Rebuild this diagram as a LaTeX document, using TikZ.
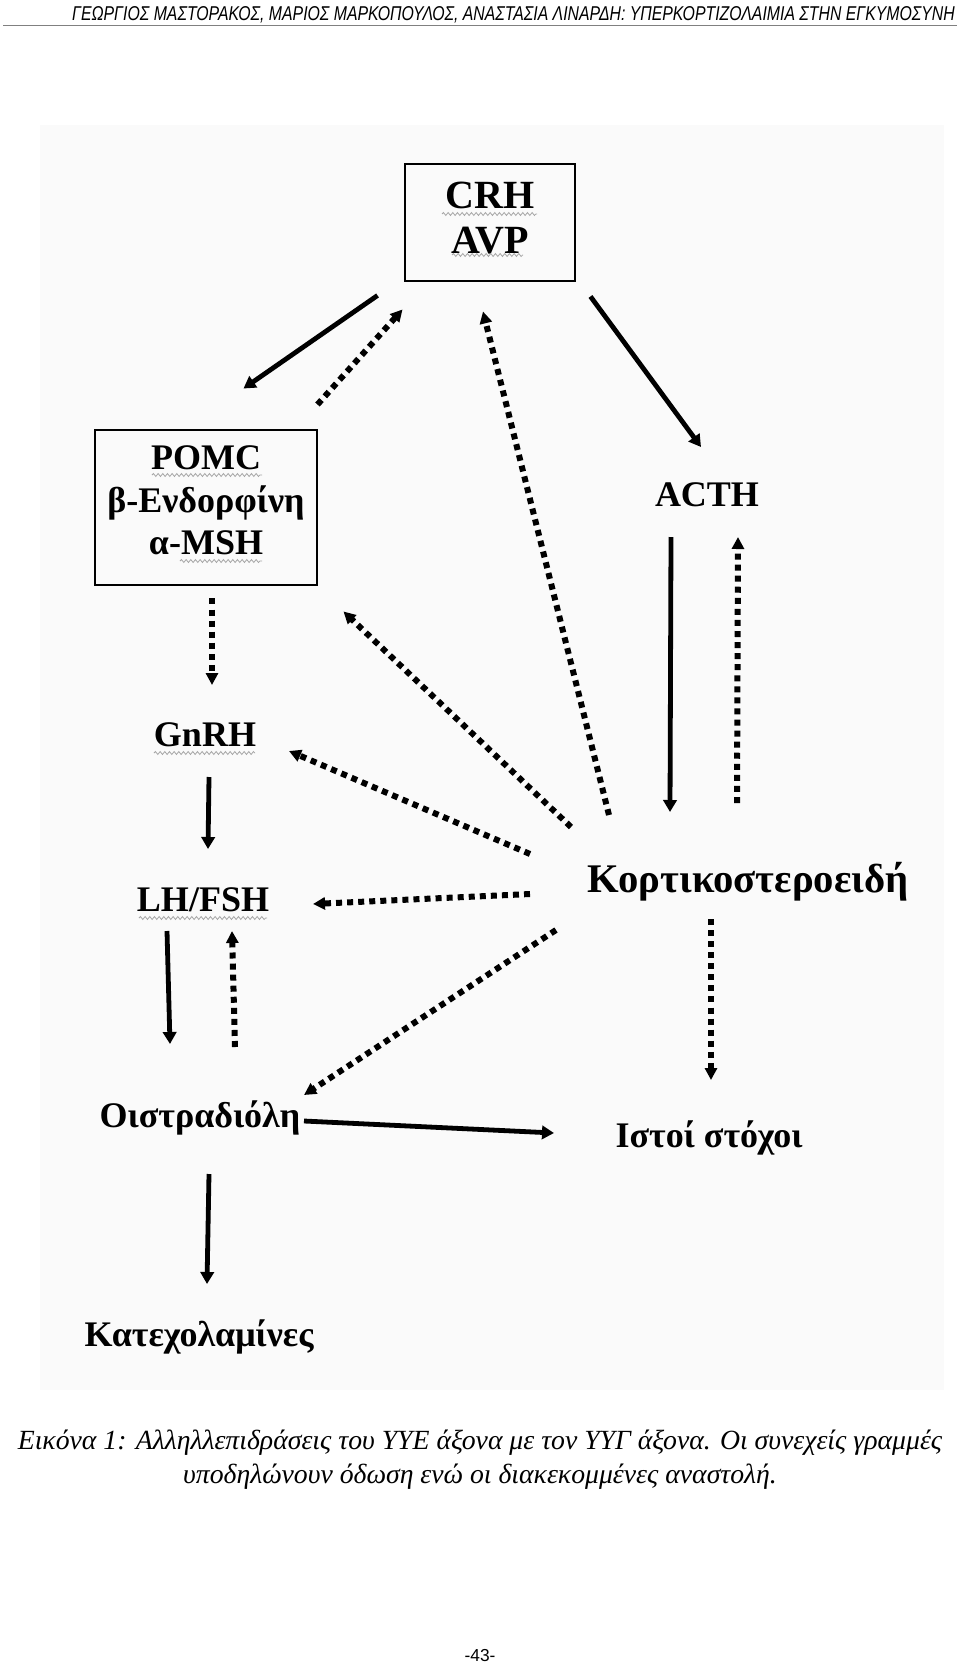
\documentclass[tikz,border=0pt]{standalone}
\usepackage{fontspec}
\setmainfont{Liberation Serif}
\newfontfamily\hdrfont{Liberation Sans}
\usetikzlibrary{arrows.meta,calc,decorations.pathmorphing}

\begin{document}
\begin{tikzpicture}[x=0.75pt,y=-0.75pt,
box/.style={draw,line width=2.2pt,align=center,font=\bfseries\fontsize{27}{32}\selectfont},
lbl/.style={inner sep=0pt,font=\bfseries\fontsize{27}{32}\selectfont},
stim/.style={-{Triangle[length=9pt,width=10pt]},line width=3.6pt},
inhib/.style={-{Triangle[length=9pt,width=9pt]},line width=4.5pt,dash pattern=on 4.5pt off 3.8pt},
spell/.style={draw=gray!70,line width=0.6pt,decorate,decoration={snake,amplitude=1.1pt,segment length=3.5pt}}]
\useasboundingbox (0,0) rectangle (960,1663);
\fill[black!2] (40,125) rectangle (944,1390);
% page header
\node[anchor=base east,inner sep=0pt] (hdr) at (955,20) {\resizebox{662pt}{\height}{\hdrfont\itshape\fontsize{15}{18}\selectfont ΓΕΩΡΓΙΟΣ ΜΑΣΤΟΡΑΚΟΣ, ΜΑΡΙΟΣ ΜΑΡΚΟΠΟΥΛΟΣ, ΑΝΑΣΤΑΣΙΑ ΛΙΝΑΡΔΗ: ΥΠΕΡΚΟΡΤΙΖΟΛΑΙΜΙΑ ΣΤΗΝ ΕΓΚΥΜΟΣΥΝΗ}};
\draw[gray,line width=1.1pt] (3,25.5) -- (957,25.5);
% boxes and labels
\node[box,minimum width=127.5pt,minimum height=87.75pt,text depth=7.5pt,font=\bfseries\fontsize{30}{33.5}\selectfont] (crh) at (490,222.5) {CRH\\AVP};
\node[box,minimum width=166.5pt,minimum height=116.25pt,text depth=11pt] (pomc) at (206,507.5) {POMC\\β-Ενδορφίνη\\α-MSH};
\node[lbl] (acth) at (707,495) {ACTH};
\node[lbl] (gnrh) at (205,735) {GnRH};
\node[lbl] (lhfsh) at (203,900) {LH/FSH};
\node[lbl,font=\bfseries\fontsize{30.5}{34}\selectfont] (kort) at (748,882) {Κορτικοστεροειδή};
\node[lbl] (oistr) at (200,1118) {Οιστραδιόλη};
\node[lbl] (istoi) at (709,1138) {Ιστοί στόχοι};
\node[lbl] (katex) at (199,1337) {Κατεχολαμίνες};
% spell-check marks of the scan
\draw[spell] (442,214) -- (537,214);
\draw[spell] (452,255) -- (523,255);
\draw[spell] (152,475) -- (262,475);
\draw[spell] (180,561) -- (262,561);
\draw[spell] (154,753) -- (255,753);
\draw[spell] (139,918) -- (267,918);
% solid = stimulation
\draw[stim] ($(crh.south west)+(-26,13)$) -- ($(pomc.north east)+(-75,-40)$);
\draw[stim] ($(crh.south east)+(14,14)$) -- ($(acth)+(-6,-48)$);
\draw[stim] ($(acth)+(-36,42)$) -- ($(kort)+(-78,-70)$);
\draw[stim] ($(gnrh)+(4,42)$) -- ($(lhfsh)+(5,-51)$);
\draw[stim] ($(lhfsh)+(-36,31)$) -- ($(oistr)+(-30,-74)$);
\draw[stim] ($(oistr)+(104,3)$) -- ($(istoi)+(-155,-5)$);
\draw[stim] ($(oistr)+(9,56)$) -- ($(katex)+(8,-53)$);
% dotted = inhibition
\draw[inhib] ($(pomc.north east)+(-1,-24)$) -- ($(crh.south west)+(-1,27)$);
\draw[inhib] ($(kort)+(-139,-67)$) -- ($(crh.south)+(-7,29)$);
\draw[inhib] ($(kort)+(-11,-79)$) -- ($(acth)+(31,42)$);
\draw[inhib] ($(pomc.south)+(6,12)$) -- ($(gnrh)+(7,-50)$);
\draw[inhib] ($(kort)+(-177,-55)$) -- ($(pomc.south east)+(25,25)$);
\draw[inhib] ($(kort)+(-218,-28)$) -- ($(gnrh)+(84,16)$);
\draw[inhib] ($(kort)+(-218,12)$) -- ($(lhfsh)+(110,4)$);
\draw[inhib] ($(oistr)+(35,-71)$) -- ($(lhfsh)+(29,31)$);
\draw[inhib] ($(kort)+(-192,48)$) -- ($(oistr)+(104,-23)$);
\draw[inhib] ($(kort)+(-37,37)$) -- ($(istoi)+(2,-58)$);
% caption and page number
\node[anchor=base,inner sep=0pt,font=\itshape\fontsize{20.8}{25}\selectfont] (cap1) at (480,1449) {Εικόνα 1: Αλληλλεπιδράσεις του ΥΥΕ άξονα με τον ΥΥΓ άξονα. Οι συνεχείς γραμμές};
\node[anchor=base,inner sep=0pt,font=\itshape\fontsize{20.8}{25}\selectfont] (cap2) at (480,1483) {υποδηλώνουν όδωση ενώ οι διακεκομμένες αναστολή.};
\node[anchor=base,inner sep=0pt,font=\hdrfont\fontsize{13}{15}\selectfont] (pnum) at (480,1661) {-43-};
\end{tikzpicture}
\end{document}
